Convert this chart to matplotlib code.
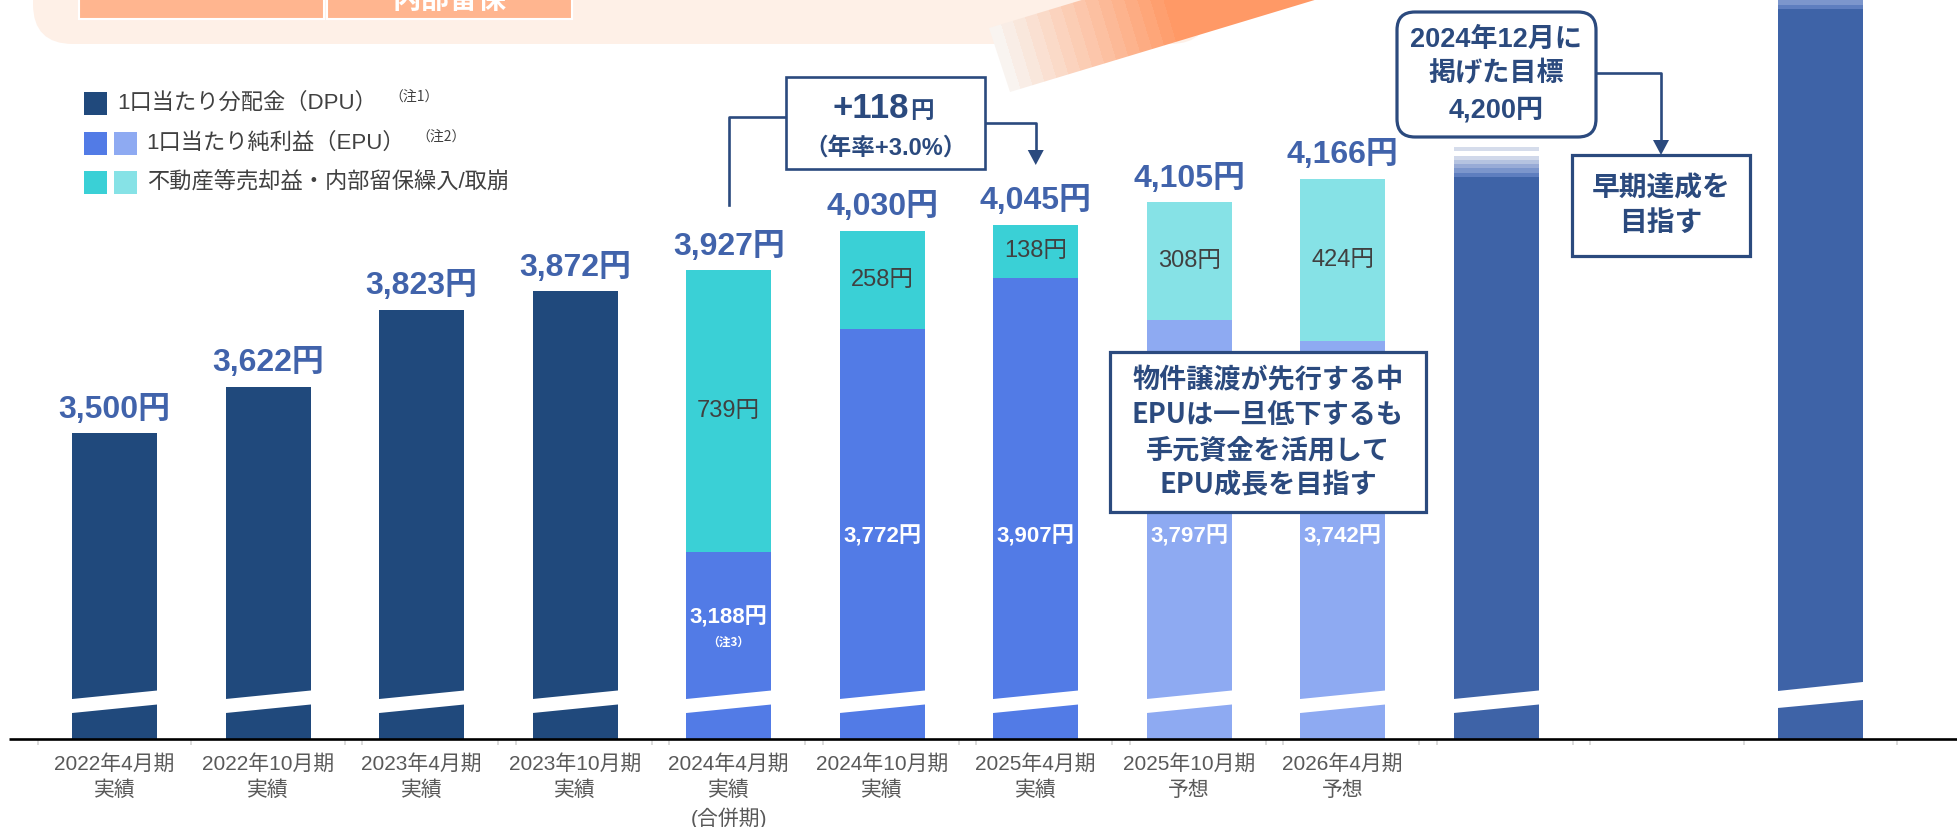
import numpy as np
import matplotlib
matplotlib.use("Agg")
import matplotlib.pyplot as plt
from matplotlib.patches import Rectangle, FancyBboxPatch, Polygon

# ---------------- data ----------------
period_labels = ["2022年4月期\n実績", "2022年10月期\n実績", "2023年4月期\n実績",
                 "2023年10月期\n実績", "2024年4月期\n実績\n(合併期)", "2024年10月期\n実績",
                 "2025年4月期\n実績", "2025年10月期\n予想", "2026年4月期\n予想", ""]
dpu_only = [3500, 3622, 3823, 3872]              # 1口当たり分配金 (DPU)
epu = [3188, 3772, 3907, 3797, 3742]             # 1口当たり純利益 (EPU)
gain = [739, 258, 138, 308, 424]                 # 不動産等売却益・内部留保繰入/取崩
is_forecast = [False, False, False, True, True]
target_dpu = 4200                                 # 2024年12月に掲げた目標
second_chart_bar = 4640                           # bar of the overlaid chart (runs off the top)
increase_label = "+118"
increase_rate = "（年率+3.0%）"

legend_labels = ["1口当たり分配金（DPU）", "1口当たり純利益（EPU）", "不動産等売却益・内部留保繰入/取崩"]
legend_notes = ["（注1）", "（注2）", ""]
target_box_lines = ["2024年12月に", "掲げた目標", f"{target_dpu:,}円"]
early_box_lines = ["早期達成を", "目指す"]
epu_box_lines = ["物件譲渡が先行する中", "EPUは一旦低下するも", "手元資金を活用して", "EPU成長を目指す"]

# ---------------- style ----------------
NAVY = "#20497C"
EPU_A = "#527BE6"
EPU_F = "#8EAAF2"
GAIN_A = "#3AD0D6"
GAIN_F = "#86E2E6"
TGT = "#3E63A7"
LBL = "#4163AB"
BOX = "#2B4A7E"
FADE = ["#5E7EBF", "#7C96CC", "#98ABD6", "#B5C3E0", "#D0D8EA", "#FFFFFF", "#D5DCEB"]
FAM = ["Liberation Sans", "Noto Sans CJK JP"]
CJK = ["Noto Sans CJK JP", "DejaVu Sans"]
plt.rcParams["font.family"] = FAM

W, H = 1958, 827
fig = plt.figure(figsize=(W / 100, H / 100), dpi=100)
fig.patch.set_facecolor("white")

BASE_PX = 739
PX_PER_YEN = 0.3823
Y0 = 2700
Y1 = Y0 + BASE_PX / PX_PER_YEN
BW = 0.554


def rect(x0, x1, ytop, ybot):
    return [x0 / W, 1 - ybot / H, (x1 - x0) / W, (ybot - ytop) / H]


def yen_at(px_above_base):
    return Y0 + px_above_base / PX_PER_YEN


bo = fig.add_axes([0, 0, 1, 1], zorder=0)
axB = fig.add_axes(rect(362, 1897, 0, BASE_PX), zorder=1)
axA = fig.add_axes(rect(38, 1573, 0, BASE_PX), zorder=2)
fo = fig.add_axes([0, 0, 1, 1], zorder=5)

# ---------------- background decorations (top) ----------------
bo.add_patch(FancyBboxPatch((33, -80), 1177, 124, boxstyle="round,pad=0,rounding_size=40",
                            fc="#FEF0E7", ec="none", zorder=1))
bo.add_patch(Rectangle((79, -30), 245, 49, fc="#FFB58F", ec="white", lw=1.5, zorder=2))
bo.add_patch(Rectangle((327, -30), 245, 49, fc="#FFB58F", ec="white", lw=1.5, zorder=2))
bo.text(449.5, 8, "内部留保", ha="center", va="baseline", color="white",
        fontsize=20.5, fontweight="bold", family=CJK, zorder=3)

ux, uy = 0.957, -0.289
xs = np.arange(960, 1700) + 0.5
ys = np.arange(0, 110) + 0.5
X, Y = np.meshgrid(xs, ys)
t = (X - 989) * ux + (Y - 28) * uy
frac = np.clip(t / 175.0, 0, 1)
frac = np.floor(frac * 14) / 14
c0 = np.array([249, 244, 240]) / 255
c1 = np.array([255, 153, 102]) / 255
img = c0 + (c1 - c0) * frac[..., None]
im = bo.imshow(img, extent=(960, 1700, 110, 0), origin="upper", interpolation="nearest", zorder=4)
band = Polygon([(989, 28), (1010, 92), (1010 + 900 * ux, 92 + 900 * uy), (989 + 900 * ux, 28 + 900 * uy)],
               transform=bo.transData)
im.set_clip_path(band)

for o in (bo, fo):
    o.set_xlim(0, W)
    o.set_ylim(H, 0)
    o.set_aspect("auto")
    o.axis("off")

# ---------------- bars ----------------
xA = np.arange(len(period_labels))
n_d = len(dpu_only)
i_dpu = xA[:n_d]
i_stk = xA[n_d:n_d + len(epu)]
i_tgt = xA[-1]
xB = np.arange(10)


def fade_top(ax, x, value):
    step = 11.2
    start = value - 30
    for k, col in enumerate(FADE):
        ax.bar(x, step + 0.4, BW, bottom=start + k * step, color=col, linewidth=0, zorder=2)


def add_break(ax, x, bl, tl, br, tr):
    e = 0.03
    s_b = (br - bl) / BW
    s_t = (tr - tl) / BW
    xl, xr = x - BW / 2 - e, x + BW / 2 + e
    pts = [(xl, yen_at(bl - s_b * e)), (xr, yen_at(br + s_b * e)),
           (xr, yen_at(tr + s_t * e)), (xl, yen_at(tl - s_t * e))]
    ax.add_patch(Polygon(pts, fc="white", ec="none", zorder=4))


c_dpu = axA.bar(i_dpu, dpu_only, BW, color=NAVY, linewidth=0, zorder=2)
c_epu = axA.bar(i_stk, epu, BW, color=[EPU_F if f else EPU_A for f in is_forecast], linewidth=0, zorder=2)
c_gain = axA.bar(i_stk, gain, BW, bottom=epu, color=[GAIN_F if f else GAIN_A for f in is_forecast],
                 linewidth=0, zorder=2)
c_tgt = axA.bar(i_tgt, target_dpu, BW, color=TGT, linewidth=0, zorder=2)
fade_top(axA, i_tgt, target_dpu)

c_b = axB.bar(xB[-1], second_chart_bar, BW, color=TGT, linewidth=0, zorder=2)
fade_top(axB, xB[-1], second_chart_bar)

for i in xA:
    add_break(axA, i, 26, 40, 34.5, 48.5)
add_break(axB, xB[-1], 31, 48, 39, 57)

# labels
lab_kw = dict(fontsize=23, fontweight="bold", color=LBL, family=FAM)
axA.bar_label(c_dpu, labels=[f"{v:,}円" for v in dpu_only], padding=6, **lab_kw)
totals = [e + g for e, g in zip(epu, gain)]
axA.bar_label(c_gain, labels=[f"{v:,}円" for v in totals], padding=6, **lab_kw)
axA.bar_label(c_gain, labels=[f"{g}円" for g in gain], label_type="center",
              fontsize=17, color="#404040", family=FAM)

for k, (i, v) in enumerate(zip(i_stk, epu)):
    ypx = 618 if k == 0 else 537
    axA.text(i, yen_at(BASE_PX - ypx), f"{v:,}円", ha="center", va="center", color="white",
             fontsize=16, fontweight="bold", family=FAM, zorder=5)
axA.text(i_stk[0], yen_at(BASE_PX - 642), "（注3）", ha="center", va="center", color="white",
         fontsize=8.5, fontweight="bold", family=CJK, zorder=5)

for ax in (axA, axB):
    ax.set_xlim(-0.5, 9.5)
    ax.set_ylim(Y0, Y1)
    ax.set_facecolor("none")
    for s in ax.spines.values():
        s.set_visible(False)
    ax.yaxis.set_visible(False)
    ax.set_xticks(np.arange(-0.5, 10, 1))
    ax.set_xticklabels([])
    ax.tick_params(axis="x", which="major", length=4, width=1.3, color="#D9D9D9", direction="out")

axA.set_xticks(xA, period_labels, minor=True)
axA.tick_params(axis="x", which="minor", length=0, pad=11, labelsize=15, labelcolor="#595959")
for lbl in axA.get_xticklabels(minor=True):
    lbl.set_fontfamily(FAM)
    lbl.set_linespacing(1.42)
axB.tick_params(axis="x", which="minor", length=0)

# ---------------- front overlay ----------------
def xpx(i):
    return axA.transData.transform((i, Y0))[0]


fo.plot([9, W], [BASE_PX, BASE_PX], color="black", lw=1.9, solid_capstyle="butt", zorder=1)

# legend
leg_rows = [(103.5, [NAVY], 117), (143.5, [EPU_A, EPU_F], 146), (182.5, [GAIN_A, GAIN_F], 147)]
note_x = [389, 416]
for r, (yc, cols, tx) in enumerate(leg_rows):
    for j, c in enumerate(cols):
        fo.add_patch(Rectangle((84 + 30.5 * j, yc - 11.5), 23, 23, fc=c, ec="none"))
    fo.text(tx, yc, legend_labels[r], ha="left", va="center", fontsize=16, color="#404040",
            family=FAM)
    if legend_notes[r]:
        fo.text(note_x[r], yc - 7, legend_notes[r], ha="left", va="center", fontsize=10,
                color="#404040", family=CJK)

# +118 box and bracket
x5, x7 = xpx(i_stk[0]), xpx(i_stk[2])
fo.add_patch(Rectangle((786, 77), 199, 92, fc="white", ec=BOX, lw=1.9, zorder=3))
fo.text(909, 118, increase_label, ha="right", va="baseline", fontsize=25, fontweight="bold",
        color=BOX, family=FAM, zorder=4)
fo.text(910, 118, "円", ha="left", va="baseline", fontsize=17, fontweight="bold",
        color=BOX, family=CJK, zorder=4)
fo.text(885.5, 148, increase_rate, ha="center", va="center", fontsize=17, fontweight="bold",
        color=BOX, family=FAM, zorder=4)
fo.plot([x5, x5, 786], [205, 117, 117], color=BOX, lw=1.9, zorder=2)
fo.plot([985, x7, x7], [123, 123, 152], color=BOX, lw=1.9, zorder=2)
fo.add_patch(Polygon([(x7 - 8, 150), (x7 + 8, 150), (x7, 165)], fc=BOX, ec="none", zorder=2))

# target box
xt = xpx(i_tgt)
fo.add_patch(FancyBboxPatch((1397, 12), 199, 125, boxstyle="round,pad=0,rounding_size=18",
                            fc="white", ec=BOX, lw=2.3, zorder=3))
for yl, s in zip([40, 74, 110], target_box_lines):
    fo.text(xt, yl, s, ha="center", va="center", fontsize=19.5, fontweight="bold", color=BOX,
            family=FAM, zorder=4)
fo.plot([1596, 1661, 1661], [73, 73, 142], color=BOX, lw=1.9, zorder=2)
fo.add_patch(Polygon([(1653, 140), (1669, 140), (1661, 155)], fc=BOX, ec="none", zorder=2))

fo.add_patch(Rectangle((1572, 155), 178, 101, fc="white", ec=BOX, lw=2.3, zorder=3))
for yl, s in zip([188, 223], early_box_lines):
    fo.text(1661, yl, s, ha="center", va="center", fontsize=20, fontweight="bold", color=BOX,
            family=CJK, zorder=4)

# EPU comment box
fo.add_patch(Rectangle((1110, 352), 316, 160, fc="white", ec=BOX, lw=2.3, zorder=3))
for yl, s in zip([380, 415, 450, 485], epu_box_lines):
    fo.text(1268, yl, s, ha="center", va="center", fontsize=19.5, fontweight="bold", color=BOX,
            family=CJK, zorder=4)

fig.savefig("out.png", dpi=100, facecolor="white")
